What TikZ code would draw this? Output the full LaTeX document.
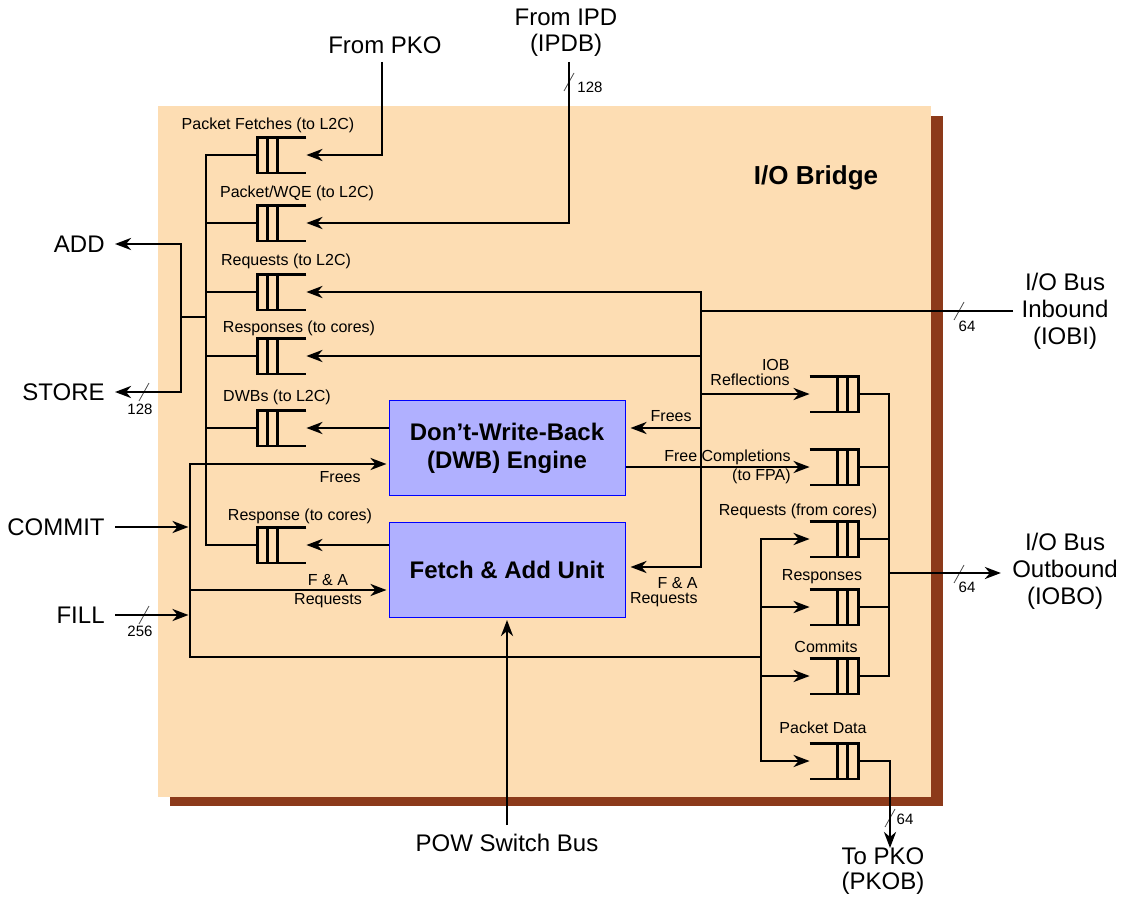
\documentclass[tikz,border=0pt]{standalone}
\usepackage{fontspec}
\setmainfont{Liberation Sans}
\usetikzlibrary{positioning, calc, arrows.meta}
\usepackage{xcolor}
\definecolor{bridgebg}{RGB}{253,221,179}
\definecolor{bridgeshadow}{RGB}{140,58,26}
\definecolor{enginefill}{RGB}{176,176,255}

\begin{document}
\begin{tikzpicture}[x=1pt, y=-1pt, line width=2.8pt,
  >={Stealth[length=16pt, width=12pt, inset=5pt]},
  sig/.style={font=\fontsize{24}{27}\selectfont, inner sep=0pt, align=center},
  lbl/.style={font=\fontsize{16}{19}\selectfont, inner sep=0pt},
  bits/.style={font=\fontsize{15}{17}\selectfont, inner sep=0pt},
  engine/.style={draw=blue, line width=1pt, fill=enginefill, minimum width=236pt,
    minimum height=95pt, inner sep=0pt, align=center,
    font=\bfseries\fontsize{24}{28}\selectfont},
  fifo/.style={minimum width=46pt, minimum height=33pt, inner sep=0pt},
  slash/.style={line width=0.8pt, black!70}]
  \useasboundingbox (0,0) rectangle (1132,899);

  % I/O BRIDGE BLOCK
  \fill[bridgeshadow] (170,116) rectangle (943,806);
  \fill[bridgebg] (158,106) rectangle (931,797);
  \node[font=\bfseries\fontsize{26}{30}\selectfont] (title) at (816,178) {I/O Bridge};

  \node[engine] (dwb) at (507,448) {Don’t-Write-Back\\(DWB) Engine};
  \node[engine] (faa) at (507,570) {Fetch \& Add Unit};

  % queues
  \foreach \n/\y in {pf/155, pw/223, rq/292, rs/356, dw/428, rc/545}
    \node[fifo] (\n) at (282,\y) {};
  \foreach \n/\y in {ir/394, fc/467, rf/539, rr/607, cm/676, pd/761}
    \node[fifo] (\n) at (834,\y) {};
  \foreach \q in {pf,pw,rq,rs,dw,rc}
    \draw (\q.north east) -- (\q.north west) -- (\q.south west) -- (\q.south east)
      ([xshift=10pt]\q.north west) -- ([xshift=10pt]\q.south west)
      ([xshift=20pt]\q.north west) -- ([xshift=20pt]\q.south west);
  \foreach \q in {ir,fc,rf,rr,cm,pd}
    \draw (\q.north west) -- (\q.north east) -- (\q.south east) -- (\q.south west)
      ([xshift=-11pt]\q.north east) -- ([xshift=-11pt]\q.south east)
      ([xshift=-21pt]\q.north east) -- ([xshift=-21pt]\q.south east);

  % queue labels
  \node[lbl] (pfl) at (268,125) {Packet Fetches (to L2C)};
  \node[lbl] (pwl) at (297,193) {Packet/WQE (to L2C)};
  \node[lbl] (rql) at (286,261) {Requests (to L2C)};
  \node[lbl] (rsl) at (299,328) {Responses (to cores)};
  \node[lbl] (dwl) at (277,397) {DWBs (to L2C)};
  \node[lbl] (rcl) at (300,516) {Response (to cores)};
  \node[lbl] (rfl) at (798,511) {Requests (from cores)};
  \node[lbl] (rrl) at (822,577) {Responses};
  \node[lbl] (cml) at (826,647) {Commits};
  \node[lbl] (pdl) at (823,728) {Packet Data};

  % connector labels
  \node[lbl, align=right, anchor=south east, font=\fontsize{16}{14.5}\selectfont]
    (irl) at (791,387) {IOB\\Reflections};
  \node[lbl, align=right, anchor=east] (fcl) at (792,467) {Free Completions\\(to FPA)};
  \node[lbl, anchor=south east] (frl) at (693,423) {Frees};
  \node[lbl, align=right, anchor=north east, font=\fontsize{16}{15}\selectfont]
    (farl) at (699,576) {F \& A\\Requests};
  \node[lbl, anchor=north east] (fll) at (362,470) {Frees};
  \node[lbl, align=center] (fal) at (328,591) {F \& A\\Requests};

  % outside signals
  \node[sig, anchor=east] (add) at (106,244) {ADD};
  \node[sig, anchor=east] (store) at (106,392) {STORE};
  \node[sig, anchor=east] (commit) at (106,527) {COMMIT};
  \node[sig, anchor=east] (fill) at (106,615) {FILL};
  \node[sig] (frompko) at (385,45) {From PKO};
  \node[sig, font=\fontsize{24}{26}\selectfont] (fromipd) at (566,33) {From IPD\\(IPDB)};
  \node[sig] (iobi) at (1065,311) {I/O Bus\\Inbound\\(IOBI)};
  \node[sig] (iobo) at (1065,571) {I/O Bus\\Outbound\\(IOBO)};
  \node[sig, font=\fontsize{24}{25}\selectfont] (topko) at (883,871) {To PKO\\(PKOB)};
  \node[sig] (pow) at (507,843) {POW Switch Bus};

  % bus widths
  \foreach \x/\y in {569/82, 144/392, 144/615, 959/311, 959/574, 890/818}
    \draw[slash] (\x-5,\y+9) -- (\x+5,\y-9);
  \node[bits] (w1) at (590,87) {128};
  \node[bits] (w2) at (140,409) {128};
  \node[bits] (w3) at (140,631) {256};
  \node[bits] (w4) at (967,326) {64};
  \node[bits] (w5) at (967,587) {64};
  \node[bits] (w6) at (905,819) {64};

  % junction points
  \coordinate (lbus) at (206,545);
  \coordinate (fork) at (181,317);
  \coordinate (b2top) at (190,464);
  \coordinate (b2bot) at (190,657);
  \coordinate (fareq) at (190,590);
  \coordinate (ibtop) at (701,292);
  \coordinate (ibbot) at (701,567);
  \coordinate (refl) at (701,394);
  \coordinate (frees) at (701,428);
  \coordinate (rbtop) at (761,539);
  \coordinate (rbbot) at (761,761);
  \coordinate (obbot) at (889,676);
  \coordinate (otap) at (889,573);
  \coordinate (pkoin) at (382,62);
  \coordinate (ipdin) at (569,62);
  \coordinate (powin) at (507,825);
  \coordinate (pkotip) at (890,848);

  % to L2C / cores
  \draw (pf.west) -| (lbus) -- (rc.west);
  \foreach \q in {pw,rq,rs,dw}
    \draw (\q.west) -- (\q.west -| lbus);
  \draw[->, shorten >=9pt] (fork -| lbus) -- (fork) |- (add.east);
  \draw[->, shorten >=9pt] (fork) |- (store.east);
  \draw[->] (pkoin) |- (pf.east);
  \draw[->] (ipdin) |- (pw.east);

  % inbound
  \draw[shorten <=7pt] (iobi.west) -- (iobi.west -| ibtop);
  \draw[->] (ibbot) -- (ibtop) -- (rq.east);
  \draw[->, shorten >=5pt] (ibtop) -- (ibbot) -- (ibbot -| faa.east);
  \draw[->] (rs.east -| ibtop) -- (rs.east);
  \draw[->, shorten >=5pt] (frees) -- (frees -| dwb.east);
  \draw[->] (refl) -- (ir.west);

  % engines
  \draw[->] (dwb.west |- dw) -- (dw.east);
  \draw[->] (faa.west |- rc) -- (rc.east);
  \draw[->] (dwb.east |- fc) -- (fc.west);
  \draw[->, shorten >=2pt] (powin) -- (faa.south);

  % commit / fill
  \draw[->, shorten <=9pt, shorten >=1.5pt] (commit.east) -- (commit.east -| b2top);
  \draw[->, shorten <=9pt, shorten >=1.5pt] (fill.east) -- (fill.east -| b2top);
  \draw[->, shorten >=2pt] (rbtop |- b2bot) -- (b2bot) -- (b2top) -- (b2top -| dwb.west);
  \draw[->, shorten >=2pt] (fareq) -- (fareq -| faa.west);

  % outbound
  \draw[->] (rbbot) -- (rbtop) -- (rf.west);
  \draw[->] (rbtop) -- (rbbot) -- (pd.west);
  \foreach \q in {rr,cm}
    \draw[->] (\q.west -| rbtop) -- (\q.west);
  \draw (ir.east) -| (obbot) -- (cm.east);
  \foreach \q in {fc,rf,rr}
    \draw (\q.east) -- (\q.east -| obbot);
  \draw[->, shorten >=10pt] (otap) -- (otap -| iobo.west);
  \draw[->] (pd.east) -| (pkotip);
\end{tikzpicture}
\end{document}
